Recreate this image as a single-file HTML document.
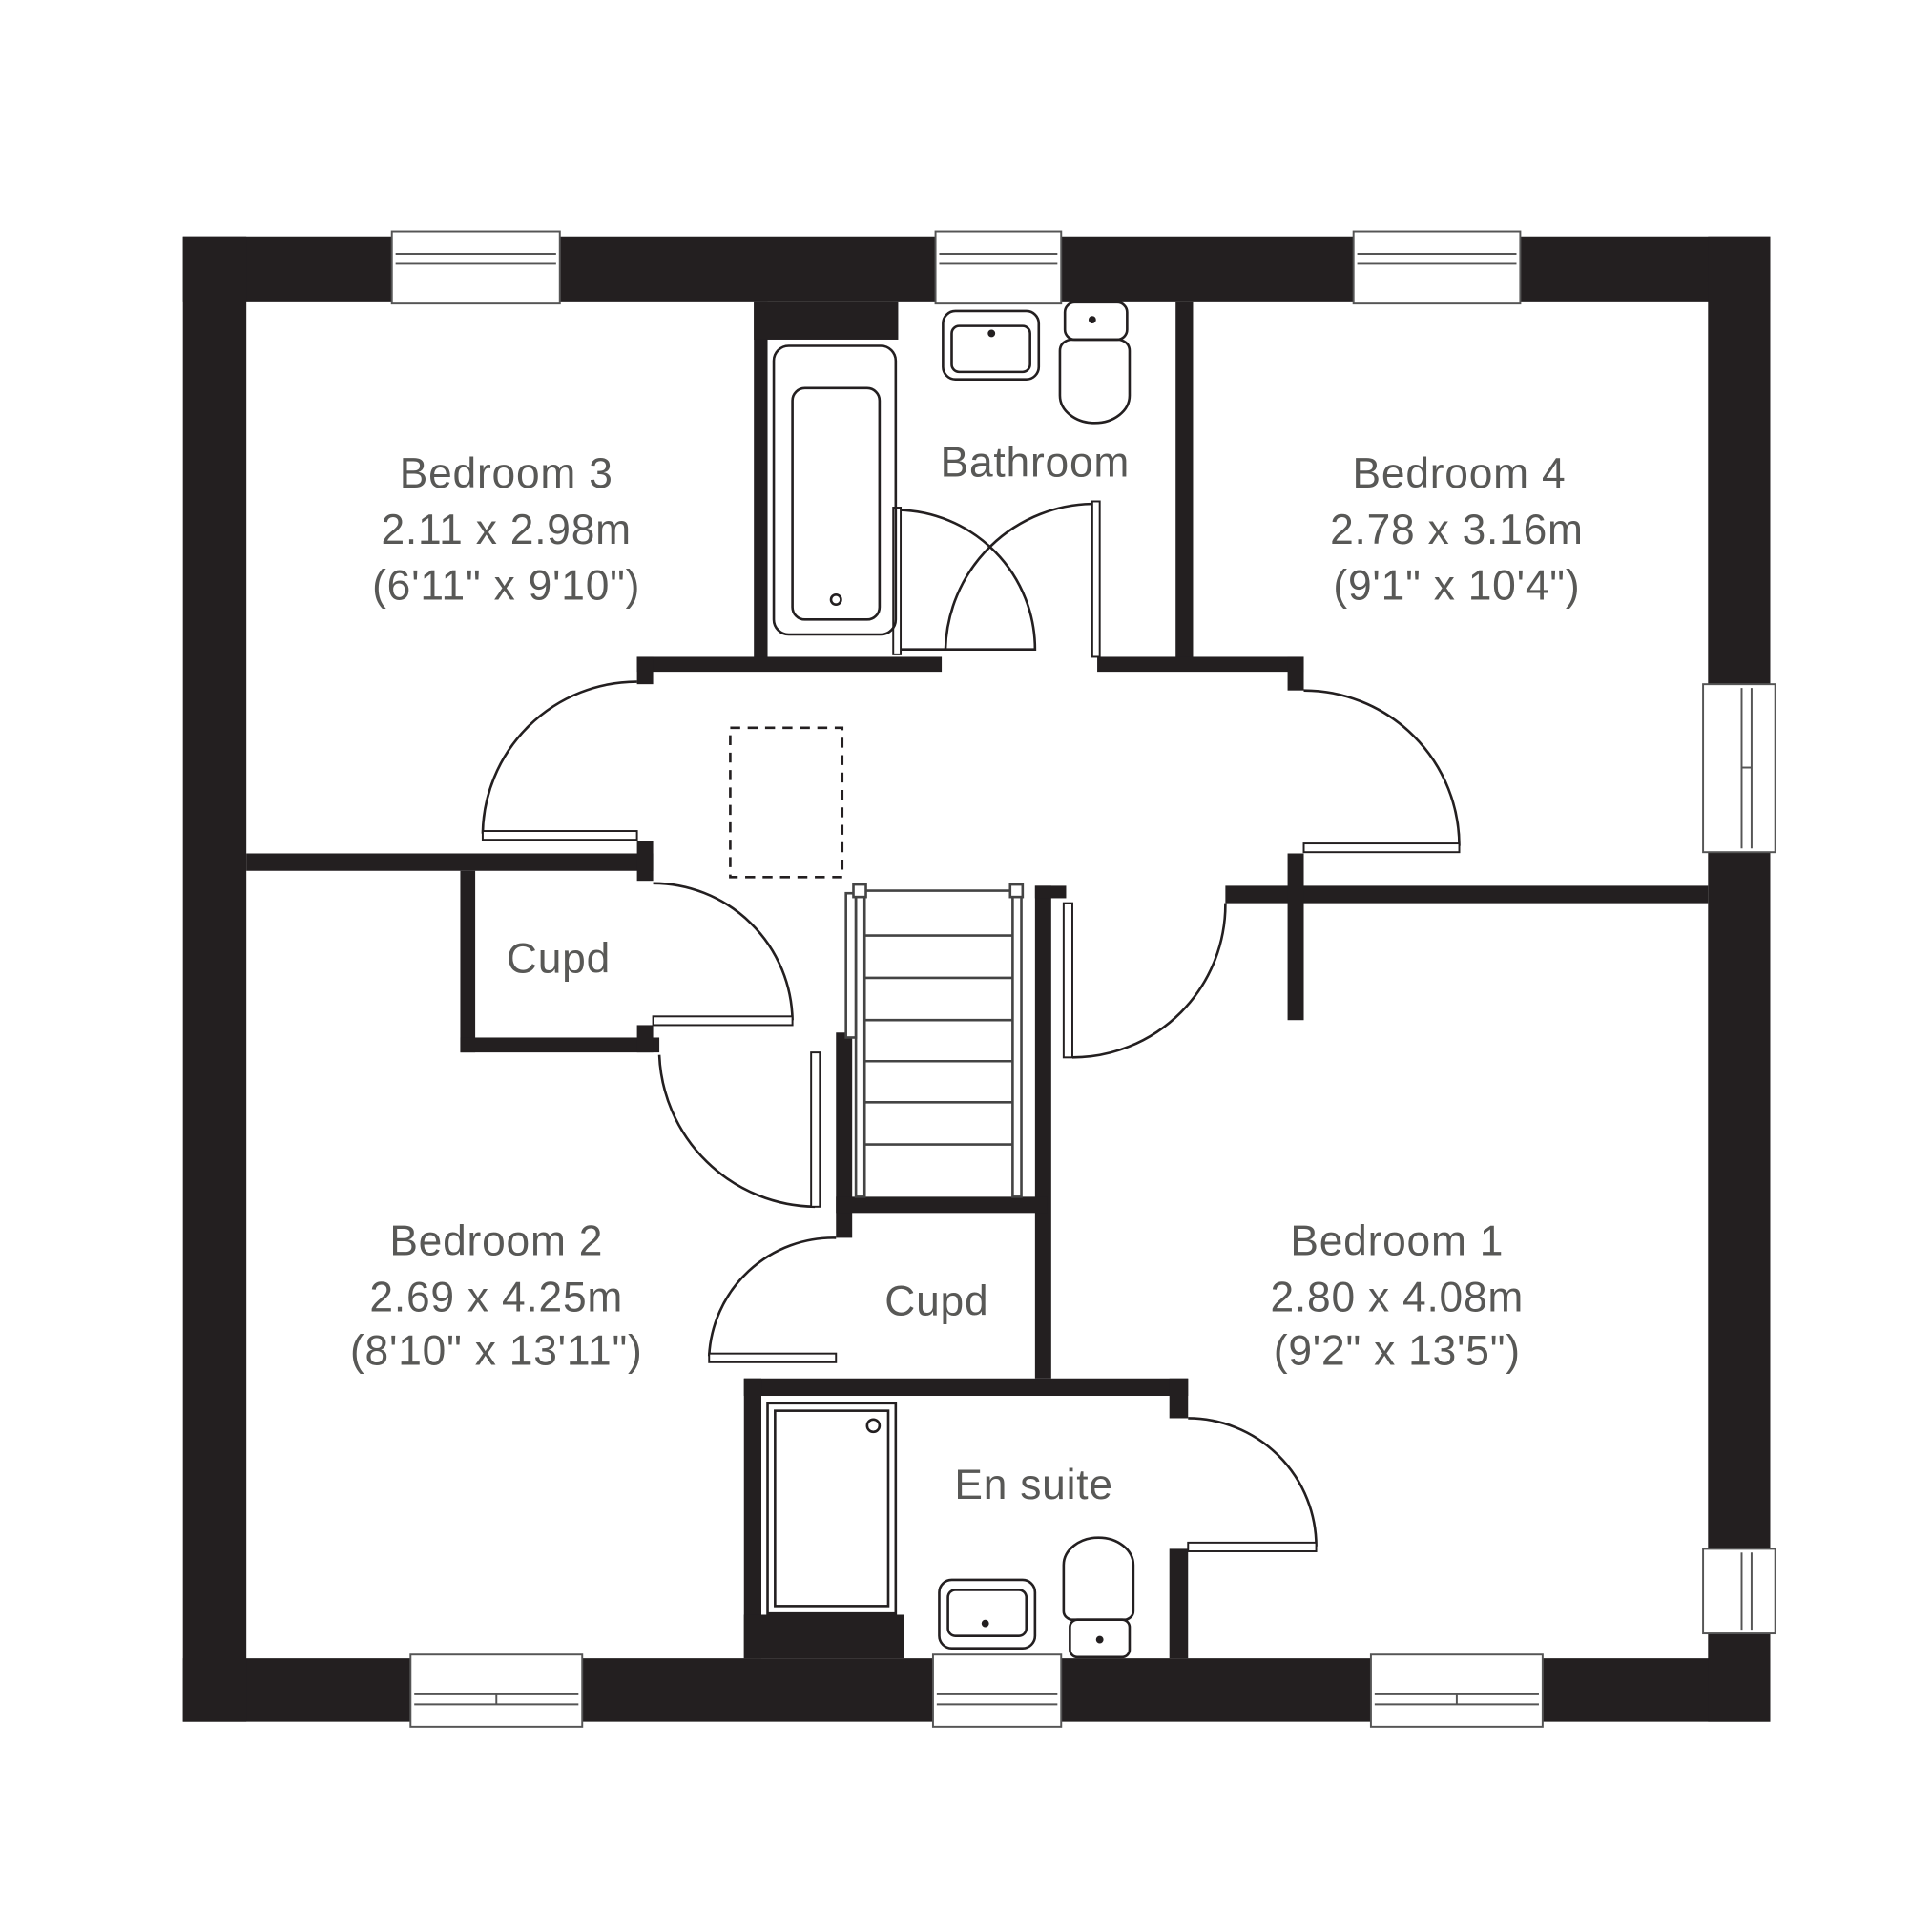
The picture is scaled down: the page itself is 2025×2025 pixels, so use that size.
<!DOCTYPE html>
<html><head><meta charset="utf-8"><style>
html,body{margin:0;padding:0;background:#fff;}
svg{display:block;}
text{font-family:"Liberation Sans",sans-serif;fill:#585856;font-size:34px;text-anchor:middle;letter-spacing:0.6px;}
</style></head><body>
<svg width="2025" height="2025" viewBox="0 0 1553 1553" xmlns="http://www.w3.org/2000/svg">
<rect width="1553" height="1553" fill="#fff"/>
<g fill="#231f20">
<rect x="147" y="190" width="1276" height="53"/>
<rect x="147" y="1333" width="1276" height="51"/>
<rect x="147" y="190" width="51" height="1194"/>
<rect x="1373" y="190" width="50" height="1194"/>
<rect x="606" y="243" width="11" height="287"/>
<rect x="606" y="243" width="116" height="30"/>
<rect x="945" y="243" width="14" height="287"/>
<rect x="512" y="528" width="245" height="12"/>
<rect x="512" y="528" width="13" height="22"/>
<rect x="882" y="528" width="166" height="12"/>
<rect x="1035" y="528" width="13" height="27"/>
<rect x="198" y="686" width="327" height="14"/>
<rect x="512" y="676" width="13" height="32"/>
<rect x="370" y="700" width="12" height="146"/>
<rect x="370" y="834" width="160" height="12"/>
<rect x="512" y="824" width="13" height="22"/>
<rect x="985" y="712" width="388" height="14"/>
<rect x="1035" y="686" width="13" height="134"/>
<rect x="832" y="712" width="13" height="396"/>
<rect x="832" y="712" width="25" height="10"/>
<rect x="672" y="830" width="13" height="165"/>
<rect x="672" y="962" width="170" height="13"/>
<rect x="598" y="1108" width="357" height="14"/>
<rect x="940" y="1108" width="15" height="32"/>
<rect x="598" y="1108" width="14" height="225"/>
<rect x="598" y="1298" width="129" height="35"/>
<rect x="940" y="1245" width="15" height="88"/>
</g>
<g fill="#fff" stroke="#555" stroke-width="1.5">
<rect x="315" y="186" width="135" height="58"/><line x1="318" y1="204" x2="447" y2="204"/><line x1="318" y1="212" x2="447" y2="212"/>
<rect x="752" y="186" width="101" height="58"/><line x1="755" y1="204" x2="850" y2="204"/><line x1="755" y1="212" x2="850" y2="212"/>
<rect x="1088" y="186" width="134" height="58"/><line x1="1091" y1="204" x2="1219" y2="204"/><line x1="1091" y1="212" x2="1219" y2="212"/>
<rect x="330" y="1330" width="138" height="58"/><line x1="333" y1="1362" x2="465" y2="1362"/><line x1="333" y1="1370" x2="465" y2="1370"/><line x1="399" y1="1362" x2="399" y2="1370"/>
<rect x="750" y="1330" width="103" height="58"/><line x1="753" y1="1362" x2="850" y2="1362"/><line x1="753" y1="1370" x2="850" y2="1370"/>
<rect x="1102" y="1330" width="138" height="58"/><line x1="1105" y1="1362" x2="1237" y2="1362"/><line x1="1105" y1="1370" x2="1237" y2="1370"/><line x1="1171" y1="1362" x2="1171" y2="1370"/>
<rect x="1369" y="550" width="58" height="135"/><line x1="1400" y1="553" x2="1400" y2="682"/><line x1="1408" y1="553" x2="1408" y2="682"/><line x1="1400" y1="617" x2="1408" y2="617"/>
<rect x="1369" y="1245" width="58" height="68"/><line x1="1400" y1="1248" x2="1400" y2="1310"/><line x1="1408" y1="1248" x2="1408" y2="1310"/>
</g>
<g fill="none" stroke="#231f20" stroke-width="2">
<path d="M722 410 A112 112 0 0 1 832 522 L722 522"/>
<rect x="718" y="408" width="6" height="118" fill="#fff" stroke-width="1.5"/>
<path d="M880 405 A120 120 0 0 0 760 522"/>
<rect x="878" y="403" width="6" height="125" fill="#fff" stroke-width="1.5"/>
<path d="M512 548 A124 124 0 0 0 388 670"/>
<rect x="388" y="668" width="124" height="7" fill="#fff" stroke-width="1.5"/>
<path d="M1048 555 A125 125 0 0 1 1173 680"/>
<rect x="1048" y="678" width="125" height="7" fill="#fff" stroke-width="1.5"/>
<path d="M525 710 A112 112 0 0 1 637 820"/>
<rect x="525" y="817" width="112" height="7" fill="#fff" stroke-width="1.5"/>
<path d="M530 848 A127 127 0 0 0 655 970"/>
<rect x="652" y="846" width="7" height="124" fill="#fff" stroke-width="1.5"/>
<path d="M985 726 A123 123 0 0 1 862 850"/>
<rect x="855" y="726" width="7" height="124" fill="#fff" stroke-width="1.5"/>
<path d="M672 995 A100 100 0 0 0 570 1090"/>
<rect x="570" y="1088" width="102" height="7" fill="#fff" stroke-width="1.5"/>
<path d="M955 1140 A103 103 0 0 1 1058 1243"/>
<rect x="955" y="1240" width="103" height="7" fill="#fff" stroke-width="1.5"/>
</g>
<rect x="587" y="585" width="90" height="120" fill="none" stroke="#231f20" stroke-width="2" stroke-dasharray="8,6"/>
<g stroke="#444" stroke-width="2" fill="none">
<rect x="680" y="718" width="8" height="116" fill="#fff"/>
<rect x="688" y="720" width="7" height="242"/>
<rect x="814" y="720" width="7" height="242"/>
<rect x="686" y="711" width="10" height="10" fill="#fff"/>
<rect x="812" y="711" width="10" height="10" fill="#fff"/>
<line x1="696" y1="716" x2="812" y2="716"/>
<line x1="695" y1="752" x2="814" y2="752"/>
<line x1="695" y1="786" x2="814" y2="786"/>
<line x1="695" y1="820" x2="814" y2="820"/>
<line x1="695" y1="853" x2="814" y2="853"/>
<line x1="695" y1="886" x2="814" y2="886"/>
<line x1="695" y1="920" x2="814" y2="920"/>
</g>
<g fill="none" stroke="#231f20" stroke-width="2">
<rect x="622" y="278" width="98" height="232" rx="12"/>
<rect x="637" y="312" width="70" height="186" rx="10"/>
<circle cx="672" cy="482" r="4"/>
<rect x="758" y="250" width="77" height="55" rx="10"/>
<rect x="765" y="262" width="63" height="37" rx="6"/>
<circle cx="797" cy="268" r="2" fill="#231f20"/>
<rect x="856" y="243" width="50" height="30" rx="8"/>
<circle cx="878" cy="257" r="2" fill="#231f20"/>
<path d="M852 282 Q852 275 860 273 L900 273 Q908 275 908 282 L908 318 A28 22 0 0 1 852 318 Z"/>
<rect x="617" y="1128" width="103" height="169"/>
<rect x="623" y="1134" width="91" height="157"/>
<circle cx="702" cy="1146" r="5"/>
<rect x="755" y="1270" width="77" height="55" rx="10"/>
<rect x="762" y="1278" width="63" height="37" rx="6"/>
<circle cx="792" cy="1305" r="2" fill="#231f20"/>
<path d="M855 1258 A28 22 0 0 1 911 1258 L911 1295 Q911 1300 905 1302 L861 1302 Q855 1300 855 1295 Z"/>
<rect x="860" y="1302" width="48" height="30" rx="6"/>
<circle cx="884" cy="1318" r="2" fill="#231f20"/>
</g>
<text x="407" y="392">Bedroom 3</text>
<text x="407" y="437">2.11 x 2.98m</text>
<text x="407" y="482">(6'11" x 9'10")</text>
<text x="832" y="383">Bathroom</text>
<text x="1173" y="392">Bedroom 4</text>
<text x="1171" y="437">2.78 x 3.16m</text>
<text x="1171" y="482">(9'1" x 10'4")</text>
<text x="449" y="782">Cupd</text>
<text x="399" y="1009">Bedroom 2</text>
<text x="399" y="1054">2.69 x 4.25m</text>
<text x="399" y="1097">(8'10" x 13'11")</text>
<text x="753" y="1057">Cupd</text>
<text x="1123" y="1009">Bedroom 1</text>
<text x="1123" y="1054">2.80 x 4.08m</text>
<text x="1123" y="1097">(9'2" x 13'5")</text>
<text x="831" y="1205">En suite</text>
</svg>
</body></html>
